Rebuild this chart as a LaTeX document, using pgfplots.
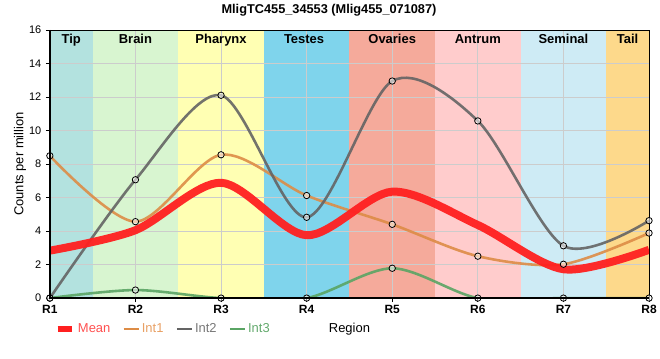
\documentclass[border=0pt]{standalone}
\usepackage{fontspec}
\setmainfont{Liberation Sans}
\usepackage{pgfplots}
\pgfplotsset{compat=1.18}
\definecolor{cTip}{RGB}{179,226,223}
\definecolor{cBrain}{RGB}{216,245,208}
\definecolor{cPhar}{RGB}{255,255,179}
\definecolor{cTest}{RGB}{127,212,236}
\definecolor{cOva}{RGB}{245,170,155}
\definecolor{cAntr}{RGB}{255,204,204}
\definecolor{cSemi}{RGB}{206,235,245}
\definecolor{cTail}{RGB}{253,217,139}
\definecolor{cMean}{RGB}{255,32,32}
\definecolor{cInt1}{RGB}{221,140,70}
\definecolor{cInt2}{RGB}{100,100,100}
\definecolor{cInt3}{RGB}{90,165,100}
\definecolor{tMean}{RGB}{255,80,80}
\definecolor{tInt1}{RGB}{232,160,100}
\definecolor{tInt2}{RGB}{120,120,120}
\definecolor{tInt3}{RGB}{100,170,110}
\begin{document}
\begin{tikzpicture}
\begin{axis}[
  set layers=standard,
  scale only axis,
  width=601pt, height=269pt,
  xmin=0, xmax=7, ymin=0, ymax=16,
  xtick={0,...,7},
  xticklabels={R1,R2,R3,R4,R5,R6,R7,R8},
  ytick={0,2,...,16},
  tick pos=left,
  tick align=outside,
  major tick length=4pt,
  every tick/.style={black, line width=0.8pt},
  grid=major,
  major grid style={draw=black!20, line width=0.8pt},
  axis line style={black, line width=0.8pt},
  /pgf/number format/assume math mode=true,
  yticklabel style={font=\fontsize{11}{13}\selectfont, xshift=-1pt},
  xticklabel style={font=\fontsize{12}{14}\selectfont\bfseries, yshift=0pt},
  ylabel={Counts per million},
  ylabel style={font=\fontsize{13}{15}\selectfont, at={(axis description cs:-0.0499,0.5)}, anchor=center, rotate=0},
  xlabel={Region},
  xlabel style={font=\fontsize{13}{15}\selectfont, at={(axis description cs:0.5,0)}, anchor=center, yshift=-31pt},
  legend style={at={(rel axis cs:0,0)}, anchor=west, xshift=4pt, yshift=-31pt,
    draw=none, fill=none, inner sep=0pt, font=\fontsize{13}{15}\selectfont,
    /tikz/every even column/.append style={column sep=10pt}},
  legend columns=-1,
  legend image code/.code={\draw[#1] (0pt,0pt) -- (15pt,0pt);},
  mark size=3.2pt,
  mark options={draw=black, fill=white, fill opacity=0.55, draw opacity=1, line width=0.8pt, solid},
]
% region bands
\addplot[on layer=axis background, fill=cTip, draw=none, forget plot] coordinates {(0,0)(0.5,0)(0.5,16)(0,16)} --cycle;
\addplot[on layer=axis background, fill=cBrain, draw=none, forget plot] coordinates {(0.5,0)(1.5,0)(1.5,16)(0.5,16)} --cycle;
\addplot[on layer=axis background, fill=cPhar, draw=none, forget plot] coordinates {(1.5,0)(2.5,0)(2.5,16)(1.5,16)} --cycle;
\addplot[on layer=axis background, fill=cTest, draw=none, forget plot] coordinates {(2.5,0)(3.5,0)(3.5,16)(2.5,16)} --cycle;
\addplot[on layer=axis background, fill=cOva, draw=none, forget plot] coordinates {(3.5,0)(4.5,0)(4.5,16)(3.5,16)} --cycle;
\addplot[on layer=axis background, fill=cAntr, draw=none, forget plot] coordinates {(4.5,0)(5.5,0)(5.5,16)(4.5,16)} --cycle;
\addplot[on layer=axis background, fill=cSemi, draw=none, forget plot] coordinates {(5.5,0)(6.5,0)(6.5,16)(5.5,16)} --cycle;
\addplot[on layer=axis background, fill=cTail, draw=none, forget plot] coordinates {(6.5,0)(7,0)(7,16)(6.5,16)} --cycle;
% band labels
\foreach \xx/\lab in {0.25/Tip,1/Brain,2/Pharynx,2.97/Testes,4/Ovaries,5/Antrum,6/Seminal,6.75/Tail}{
  \edef\tmp{\noexpand\node[font=\noexpand\fontsize{13}{15}\noexpand\selectfont\noexpand\bfseries, anchor=north, inner sep=0pt] at (axis cs:\xx,16) [yshift=-4pt] {\lab};}
  \tmp
}
% series
\addplot[cInt1, line width=2.6pt, opacity=0.9, smooth, tension=0.5, mark=*, forget plot] coordinates {
(0,8.49)(1,4.56)(2,8.55)(3,6.12)(4,4.40)(5,2.50)(6,2.02)(7,3.88)};
\addplot[cInt2, line width=2.6pt, opacity=0.9, smooth, tension=0.5, mark=*, forget plot] coordinates {
(0,0)(1,7.06)(2,12.10)(3,4.82)(4,12.95)(5,10.57)(6,3.12)(7,4.62)};
\addplot[cInt3, line width=2.6pt, opacity=0.9, smooth, tension=0.5, mark=*, forget plot] coordinates {
(0,0)(1,0.48)(2,0)(3,0)(4,1.78)(5,0)(6,0)(7,0)};
\addplot[cMean, line width=8pt, opacity=0.95, smooth, tension=0.5, forget plot] coordinates {
(0,2.83)(1,4.05)(2,6.88)(3,3.75)(4,6.35)(5,4.36)(6,1.72)(7,2.88)};
\addlegendimage{cMean, line width=7pt}
\addlegendentry{\textcolor{tMean}{Mean}}
\addlegendimage{cInt1, line width=2.6pt}
\addlegendentry{\textcolor{tInt1}{Int1}}
\addlegendimage{cInt2, line width=2.6pt}
\addlegendentry{\textcolor{tInt2}{Int2}}
\addlegendimage{cInt3, line width=2.6pt}
\addlegendentry{\textcolor{tInt3}{Int3}}
\coordinate (O) at (rel axis cs:0,0);
\coordinate (T) at (rel axis cs:1,1);
\end{axis}
\draw[black, line width=2pt] (O |- T) -- (O) -- (T |- O);
\node[font=\fontsize{12.8}{15}\selectfont\bfseries, anchor=center] at ([shift={(280pt,20pt)}]O |- T) {MligTC455\_34553 (Mlig455\_071087)};
\path ([shift={(-50pt,-61pt)}]O) rectangle ([shift={(9pt,30pt)}]T);
\end{tikzpicture}
\end{document}
